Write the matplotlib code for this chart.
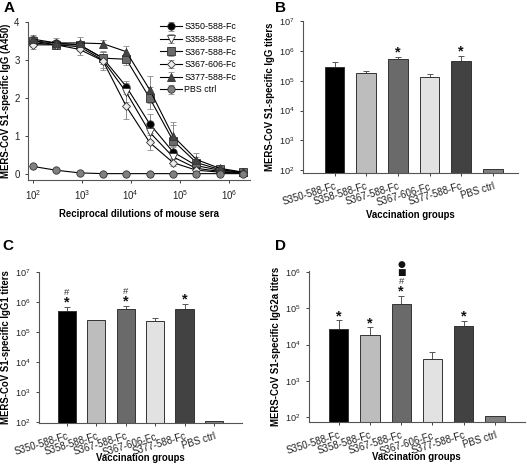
import matplotlib
matplotlib.use("Agg")
import matplotlib.pyplot as plt
import numpy as np

plt.rcParams['font.family'] = ['Liberation Sans', 'DejaVu Sans']

# ---------- Panel A data ----------
dilutions = [100, 300, 900, 2700, 8100, 24300, 72900, 218700, 656100, 1968300]
a_names = ["S350-588-Fc", "S358-588-Fc", "S367-588-Fc", "S367-606-Fc", "S377-588-Fc", "PBS ctrl"]
a_s350 = [3.50, 3.45, 3.40, 3.05, 2.30, 1.32, 0.58, 0.22, 0.10, 0.05]
a_s358 = [3.45, 3.40, 3.35, 3.00, 2.15, 1.10, 0.45, 0.15, 0.07, 0.03]
a_s367 = [3.50, 3.40, 3.40, 3.05, 3.02, 2.00, 0.88, 0.30, 0.12, 0.04]
a_s367606 = [3.40, 3.40, 3.28, 2.98, 1.78, 0.83, 0.30, 0.10, 0.05, 0.02]
a_s377 = [3.55, 3.45, 3.45, 3.43, 3.22, 2.22, 1.00, 0.38, 0.15, 0.05]
a_pbs = [0.20, 0.10, 0.03, 0.01, 0.01, 0.01, 0.01, 0.01, 0.01, 0.01]
e_s350 = [0.10, 0.08, 0.08, 0.15, 0.15, 0.25, 0.15, 0.08, 0.04, 0.02]
e_s358 = [0.10, 0.08, 0.10, 0.20, 0.25, 0.20, 0.12, 0.05, 0.03, 0.02]
e_s367 = [0.12, 0.10, 0.10, 0.15, 0.15, 0.30, 0.48, 0.15, 0.05, 0.02]
e_s367606 = [0.12, 0.10, 0.15, 0.25, 0.32, 0.20, 0.10, 0.05, 0.03, 0.02]
e_s377 = [0.10, 0.12, 0.15, 0.10, 0.15, 0.35, 0.30, 0.18, 0.06, 0.02]
e_pbs = [0.02, 0.02, 0.01, 0.01, 0.01, 0.01, 0.01, 0.01, 0.01, 0.01]

# ---------- Bar panels data ----------
groups = ["S350-588-Fc", "S358-588-Fc", "S367-588-Fc", "S367-606-Fc", "S377-588-Fc", "PBS ctrl"]
b_igg = [2.8e5, 1.75e5, 5.3e5, 1.3e5, 4.7e5, 110]
b_igg_err = [1.5e5, 0.35e5, 0.9e5, 0.35e5, 2.1e5, 0]
b_sig = [[], [], ["*"], [], ["*"], []]
c_igg1 = [5.0e5, 2.5e5, 6.0e5, 2.3e5, 5.8e5, 110]
c_igg1_err = [2.0e5, 0.1e5, 1.3e5, 0.6e5, 3.0e5, 0]
c_sig = [["*", "#"], [], ["*", "#"], [], ["*"], []]
d_igg2a = [2.7e4, 1.8e4, 1.35e5, 4.0e3, 3.3e4, 105]
d_igg2a_err = [2.0e4, 1.2e4, 0.85e5, 2.3e3, 1.3e4, 0]
d_sig = [["*"], ["*"], ["*", "#", "\u25A0", "\u25CF"], [], ["*"], []]

bar_colors = ["#000000", "#bdbdbd", "#6a6a6a", "#e2e2e2", "#424242", "#808080"]

fig = plt.figure(figsize=(5.27, 4.69), dpi=100)

spine_col = "#555555"
LAB = 6.9
TICK = 6.6

def style(ax):
    for s in ["top", "right"]:
        ax.spines[s].set_visible(False)
    for s in ["left", "bottom"]:
        ax.spines[s].set_color(spine_col)
        ax.spines[s].set_linewidth(0.8)
    ax.tick_params(colors="#222222", labelsize=TICK, length=2.5, width=0.6)

# ---------- Panel A ----------
axA = fig.add_axes([0.053, 0.616, 0.421, 0.337])
style(axA)
axA.tick_params(labelsize=7)
series = [
    (a_s350, e_s350, "o", "black"),
    (a_s358, e_s358, "v", "white"),
    (a_s367, e_s367, "s", "#6a6a6a"),
    (a_s367606, e_s367606, "D", "#ececec"),
    (a_s377, e_s377, "^", "#444444"),
    (a_pbs, e_pbs, "o", "#808080"),
]
for (vals, errs, mk, fc), name in zip(series, a_names):
    axA.errorbar(dilutions, vals, yerr=errs, color="black", lw=0.8,
                 marker=mk, ms=5.3 if mk != "D" else 4.5, mfc=fc, mec="#333333", mew=0.6,
                 ecolor="#8a8a8a", elinewidth=0.7, capsize=2, capthick=0.7, label=name)
axA.set_xscale("log")
axA.set_xlim(10**1.9, 10**6.43)
axA.set_ylim(-0.16, 4)
axA.set_yticks([0, 1, 2, 3, 4])
axA.set_xticks([1e2, 1e3, 1e4, 1e5, 1e6])
axA.xaxis.set_minor_locator(matplotlib.ticker.NullLocator())
axA.set_xlabel("Reciprocal dilutions of mouse sera", fontsize=LAB, fontweight="bold", labelpad=5)
axA.set_ylabel("MERS-CoV S1-specific IgG (A450)", fontsize=LAB, fontweight="bold", labelpad=2)
leg = axA.legend(loc="upper right", frameon=False, fontsize=6.4, handlelength=2.4,
                 labelspacing=0.40, borderaxespad=0.0, handletextpad=0.3,
                 bbox_to_anchor=(0.955, 1.02))
fig.text(0.006, 0.998, "A", fontsize=11, fontweight="bold", va="top")

def bar_panel(rect, vals, errs, sig, ylabel, ylim, xlim, letter, lpos, xpad):
    ax = fig.add_axes(rect)
    style(ax)
    x = np.arange(len(groups))
    ax.set_yscale("log")
    ax.set_ylim(*ylim)
    heights = [v - ylim[0] for v in vals]
    ax.bar(x, heights, bottom=ylim[0], width=0.62, color=bar_colors,
           edgecolor="#333333", linewidth=0.7, zorder=2)
    for xi, v, e in zip(x, vals, errs):
        if e > 0:
            ax.errorbar([xi], [v], yerr=[[0], [e]], color="#555555",
                        elinewidth=0.7, capsize=2.5, capthick=0.7, zorder=1)
    for xi, v, e, syms in zip(x, vals, errs, sig):
        off = 0.5
        for s in syms:
            if s == "*":
                ax.annotate(s, (xi, v + e), xytext=(0, off - 2.5), textcoords="offset points",
                            ha="center", va="bottom", fontsize=10.5, fontweight="bold", color="#111111")
                off += 6.5
            elif s == "#":
                ax.annotate(s, (xi, v + e), xytext=(0, off), textcoords="offset points",
                            ha="center", va="bottom", fontsize=6.8, color="#333333")
                off += 6.5
            else:
                ax.annotate(s, (xi, v + e), xytext=(0, off), textcoords="offset points",
                            ha="center", va="bottom", fontsize=6.5, color="#111111",
                            family=["DejaVu Sans"])
                off += 6.0
    ax.set_xlim(*xlim)
    ax.set_xticks(x)
    ax.set_xticklabels(groups, rotation=17, ha="right", rotation_mode="anchor", fontsize=7.0)
    ax.yaxis.set_minor_locator(matplotlib.ticker.NullLocator())
    ax.set_xlabel("Vaccination groups", fontsize=LAB, fontweight="bold", labelpad=xpad)
    ax.set_ylabel(ylabel, fontsize=LAB, fontweight="bold", labelpad=3)
    fig.text(lpos[0], lpos[1], letter, fontsize=11, fontweight="bold", va="top")
    return ax

bar_panel([0.575, 0.631, 0.408, 0.324], b_igg, b_igg_err, b_sig,
          "MERS-CoV S1-specific IgG titers", (80, 1e7), (-1.0, 5.8), "B", (0.522, 0.998), 2)
bar_panel([0.074, 0.098, 0.385, 0.322], c_igg1, c_igg1_err, c_sig,
          "MERS-CoV S1-specific IgG1 titers", (93, 1e7), (-0.95, 5.95), "C", (0.004, 0.49), -3)
bar_panel([0.586, 0.100, 0.410, 0.322], d_igg2a, d_igg2a_err, d_sig,
          "MERS-CoV S1-specific IgG2a titers", (73, 1.07e6), (-0.96, 5.96), "D", (0.522, 0.49), -3)

fig.savefig("out.png", dpi=100)
